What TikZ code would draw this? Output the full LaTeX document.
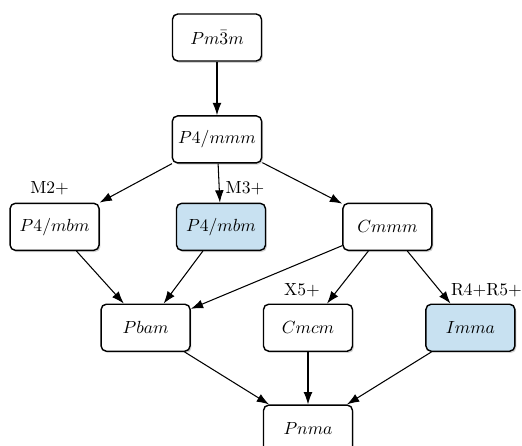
\documentclass[tikz,border=0pt]{standalone}
\usepackage{tikz}
\usetikzlibrary{shapes,positioning,shadows,arrows.meta}

\definecolor{irrepblue}{RGB}{200,225,241}

\begin{document}
\begin{tikzpicture}[thick,
    group/.style={draw,
        rectangle,
        rounded corners=3pt,
        fill=white,
        minimum width=1.78cm,
        minimum height=0.94cm,
        drop shadow={opacity=0.35,shadow xshift=0.8pt,shadow yshift=-1pt}},
    irrep/.style={inner sep=1pt},
    link/.style={-{Latex[length=7pt,width=5pt]},semithick}]

\useasboundingbox (-4.34,0.75) rectangle (6.10,-8.17);

% Parent structure
\node[group] (cubic) {$Pm\bar{3}m$};

\node[group,
    below=1.07cm of cubic] (tetra) {$P4/mmm$};

% Second level
\node[group,
    fill=irrepblue,
    below=0.78cm of tetra,
    xshift=0.08cm] (mbmB) {$P4/mbm$};

\node[group,
    left=1.52cm of mbmB] (mbmA) {$P4/mbm$};

\node[group,
    right=1.52cm of mbmB] (cmmm) {$Cmmm$};

% Third level
\node[group,
    below=1.05cm of mbmB,
    xshift=1.74cm] (cmcm) {$Cmcm$};

\node[group,
    left=1.44cm of cmcm] (pbam) {$Pbam$};

\node[group,
    fill=irrepblue,
    right=1.44cm of cmcm] (imma) {$Imma$};

% Bottom
\node[group,
    below=1.05cm of cmcm] (pnma) {$Pnma$};

% Irrep labels
\node[irrep, above=0.1cm of mbmA, xshift=-0.1cm] (lblM2) {M2+};
\node[irrep, above=0.1cm of mbmB, xshift=0.48cm] (lblM3) {M3+};
\node[irrep, above=0.08cm of cmcm, xshift=-0.12cm] (lblX5) {X5+};
\node[irrep, above=0.08cm of imma, xshift=0.32cm] (lblR45) {R4+R5+};

% Arrows
\draw[link] (cubic) edge (tetra)
    (tetra) edge (mbmA)
    (tetra) edge (mbmB)
    (tetra) edge (cmmm);

\draw[link] (mbmA) edge (pbam)
    (mbmB) edge (pbam)
    (cmmm) edge (pbam)
    (cmmm) edge (cmcm)
    (cmmm) edge (imma);

\draw[link] (pbam) edge (pnma)
    (cmcm) edge (pnma)
    (imma) edge (pnma);

\end{tikzpicture}
\end{document}
